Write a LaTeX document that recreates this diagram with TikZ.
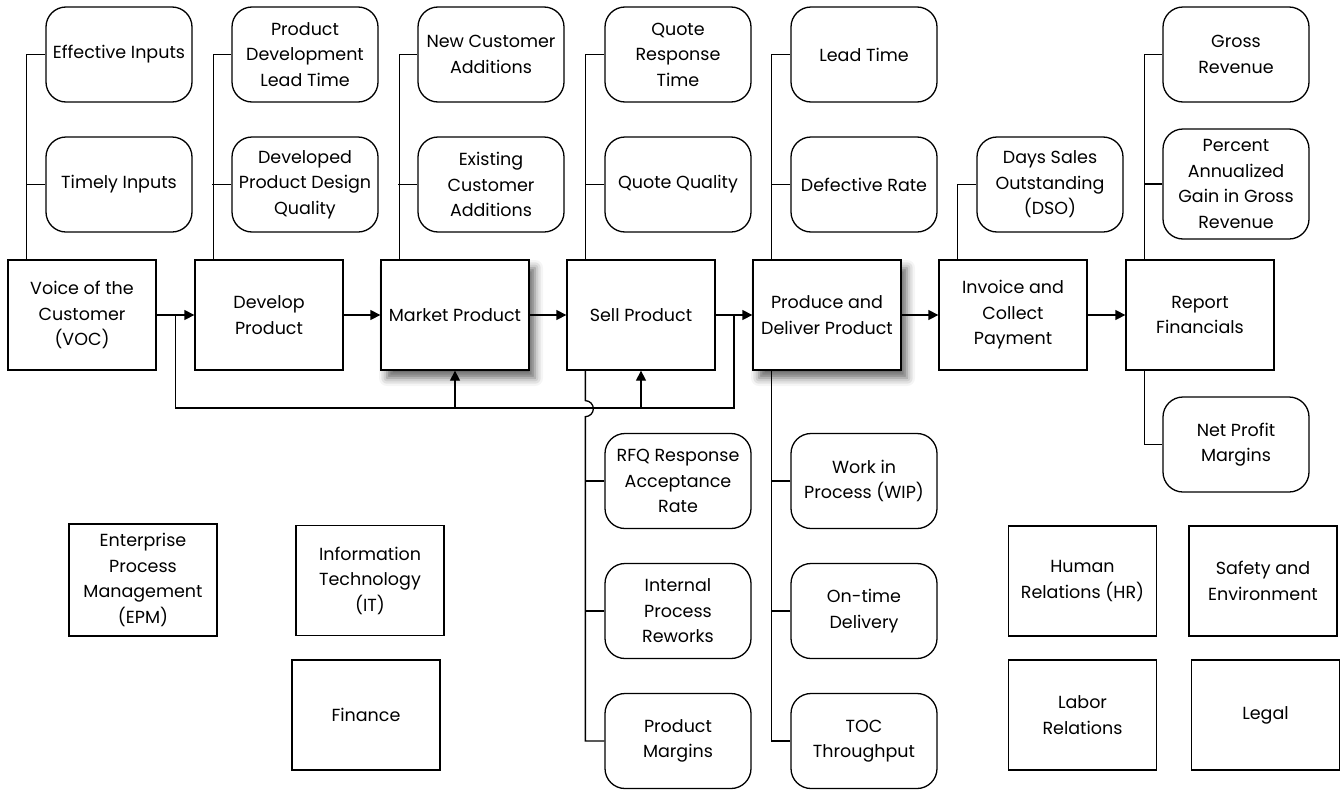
\documentclass[tikz,border=0pt]{standalone}
\usepackage{fontspec}
\setmainfont{Poppins}
\usetikzlibrary{arrows.meta,calc,shadows.blur}
\begin{document}
\begin{tikzpicture}[x=1pt,y=-1pt,
  font=\fontsize{17.5}{25.5}\selectfont,
  line width=1.3pt,
  box/.style={draw,rectangle,minimum width=148pt,minimum height=110pt,align=center,inner sep=2pt,fill=white},
  metric/.style={draw,rounded corners=20pt,minimum width=146pt,minimum height=95pt,align=center,inner sep=2pt,fill=white},
  shadowed/.style={blur shadow={shadow xshift=6pt,shadow yshift=-8pt,shadow blur radius=8pt,shadow opacity=60}},
  arr/.style={-{Triangle[length=10pt,width=10pt]}},
]
\useasboundingbox (0,0) rectangle (1343,790);

% main process
\node[box] (voc) at (82,315) {Voice of the\\Customer\\(VOC)};
\node[box] (dev) at (269,315) {Develop\\Product};
\node[box,shadowed] (mkt) at (455,315) {Market Product};
\node[box] (sell) at (641,315) {Sell Product};
\node[box,shadowed] (prod) at (827,315) {Produce and\\Deliver Product};
\node[box] (inv) at (1013,315) {Invoice and\\Collect\\Payment};
\node[box] (rep) at (1200,315) {Report\\Financials};

% metrics
\node[metric] (ei) at (119,54.5) {Effective Inputs};
\node[metric] (ti) at (119,184.5) {Timely Inputs};
\node[metric] (pdlt) at (305,54.5) {Product\\Development\\Lead Time};
\node[metric] (dpdq) at (305,184.5) {Developed\\Product Design\\Quality};
\node[metric] (nca) at (491,54.5) {New Customer\\Additions};
\node[metric] (eca) at (491,184.5) {Existing\\Customer\\Additions};
\node[metric] (qrt) at (678,54.5) {Quote\\Response\\Time};
\node[metric] (qq) at (678,184.5) {Quote Quality};
\node[metric] (lt) at (864,54.5) {Lead Time};
\node[metric] (dr) at (864,184.5) {Defective Rate};
\node[metric] (dso) at (1050,184.5) {Days Sales\\Outstanding\\(DSO)};
\node[metric] (gr) at (1236,54.5) {Gross\\Revenue};
\node[metric,minimum height=110pt] (pag) at (1236,184) {Percent\\Annualized\\Gain in Gross\\Revenue};
\node[metric] (npm) at (1236,444.5) {Net Profit\\Margins};
\node[metric] (rfq) at (678,481) {RFQ Response\\Acceptance\\Rate};
\node[metric] (ipr) at (678,611) {Internal\\Process\\Reworks};
\node[metric] (pm) at (678,741) {Product\\Margins};
\node[metric] (wip) at (864,481) {Work in\\Process (WIP)};
\node[metric] (otd) at (864,611) {On-time\\Delivery};
\node[metric] (toc) at (864,741) {TOC\\Throughput};

% support functions
\node[box,minimum height=112pt] (epm) at (143,580) {Enterprise\\Process\\Management\\(EPM)};
\node[box] (it) at (370,580.5) {Information\\Technology\\(IT)};
\node[box] (fin) at (366,715) {Finance};
\node[box] (hr) at (1082.5,581) {Human\\Relations (HR)};
\node[box] (se) at (1263,581) {Safety and\\Environment};
\node[box] (lr) at (1082.5,715) {Labor\\Relations};
\node[box] (leg) at (1265.5,715) {Legal};

% main flow
\draw[arr] (voc.east) -- (dev.west);
\draw[arr] (dev.east) -- (mkt.west);
\draw[arr] (mkt.east) -- (sell.west);
\draw[arr] (sell.east) -- (prod.west);
\draw[arr] (prod.east) -- (inv.west);
\draw[arr] (inv.east) -- (rep.west);

% metric branches
\draw (voc.north west) ++(19,0) |- (ei.west);
\draw (ti.west) -- ++(-19,0);
\draw (dev.north west) ++(19,0) |- (pdlt.west);
\draw (dpdq.west) -- ++(-19,0);
\draw (mkt.north west) ++(19,0) |- (nca.west);
\draw (eca.west) -- ++(-19,0);
\draw (sell.north west) ++(19,0) |- (qrt.west);
\draw (qq.west) -- ++(-19,0);
\draw (prod.north west) ++(19,0) |- (lt.west);
\draw (dr.west) -- ++(-19,0);
\draw (inv.north west) ++(19,0) |- (dso.west);
\draw (rep.north west) ++(19,0) |- (gr.west);
\draw (pag.west) -- ++(-18,0);
\draw (rep.south west) ++(19,0) |- (npm.west);
\draw (sell.south west) ++(19,0) -- ++(0,30) arc[start angle=-90,end angle=90,radius=8] |- (pm.west);
\draw (rfq.west) -- ++(-19,0);
\draw (ipr.west) -- ++(-19,0);
\draw (prod.south west) ++(19,0) |- (toc.west);
\draw (wip.west) -- ++(-19,0);
\draw (otd.west) -- ++(-19,0);

% feedback loop
\coordinate (fbL) at ($(voc.east)!0.5!(dev.west)$);
\coordinate (fbR) at ($(sell.east)!0.5!(prod.west)$);
\coordinate (fbB) at ($(fbL)+(0,93)$);
\draw (fbL) -- (fbB) -| (fbR);
\draw[arr] (mkt.south |- fbB) -- (mkt.south);
\draw[arr] (sell.south |- fbB) -- (sell.south);
\end{tikzpicture}
\end{document}
